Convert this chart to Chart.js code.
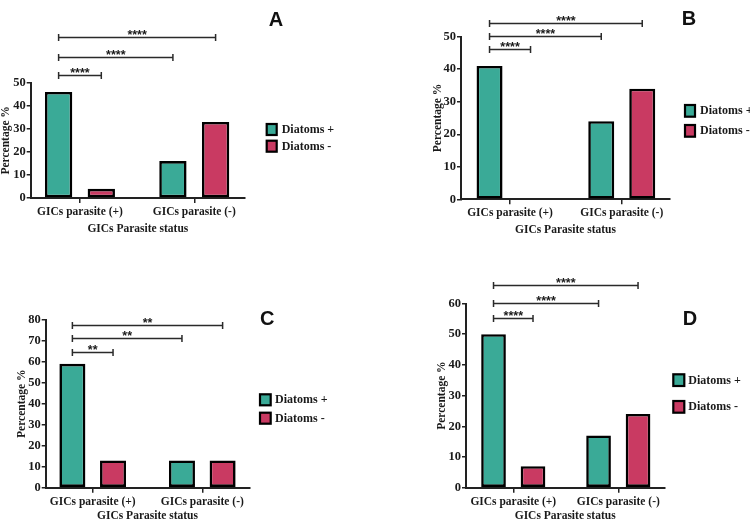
<!DOCTYPE html>
<html><head><meta charset="utf-8">
<script src="https://cdn.jsdelivr.net/npm/chart.js@4.4.1/dist/chart.umd.min.js"></script>
<style>
html,body{margin:0;padding:0;background:#fff;width:750px;height:522px;overflow:hidden}
canvas{position:absolute;left:0;top:0}
</style></head>
<body>
<canvas id="cA" width="750" height="522"></canvas>
<canvas id="cB" width="750" height="522"></canvas>
<canvas id="cC" width="750" height="522"></canvas>
<canvas id="cD" width="750" height="522"></canvas>
<script>
// ---- data ----
const categories = ['GICs parasite (+)', 'GICs parasite (-)'];
const seriesLabels = ['Diatoms +', 'Diatoms -'];
const xTitle = 'GICs Parasite status';
const yTitle = 'Percentage %';

const diatomsPosA = [46, 16];
const diatomsNegA = [4, 33];
const diatomsPosB = [41, 24];
const diatomsNegB = [0, 34];
const diatomsPosC = [59, 13];
const diatomsNegC = [13, 13];
const diatomsPosD = [50, 17];
const diatomsNegD = [7, 24];

const yMaxA = 50, yMaxB = 50, yMaxC = 80, yMaxD = 60;
const yStep = 10;
const sigA = '****', sigB = '****', sigC = '**', sigD = '****';

// ---- styles / layout ----
const GREEN = '#3aaa97';
const RED = '#c93a62';
const INK = '#1a1a1a';
const SERIF = '"Liberation Serif", "Times New Roman", serif';
const SANS = '"Liberation Sans", Arial, sans-serif';

const panels = [
  {id:'cA', letter:'A', pos:diatomsPosA, neg:diatomsNegA, yMax:yMaxA, sig:sigA,
   area:[30.7,82.7,245,198], yW:30.5, xH:38.2, xMin:0.569, xMax:2.444, cat:0.747, bar:0.64,
   brackets:[53.2,61.3,69.7], legend:[266.7,124,16.7,10,11], letterXY:[276,19.7]},
  {id:'cB', letter:'B', pos:diatomsPosB, neg:diatomsNegB, yMax:yMaxB, sig:sigB,
   area:[461,36.7,670,199.3], yW:28.5, xH:37.6, xMin:0.561, xMax:2.432, cat:0.734, bar:0.634,
   brackets:[46.2,50.2,54.2], legend:[685,105,20,10,11.7], letterXY:[689,18.8]},
  {id:'cC', letter:'C', pos:diatomsPosC, neg:diatomsNegC, yMax:yMaxC, sig:sigC,
   area:[45.7,319.7,249.3,487.7], yW:29.7, xH:35.2, xMin:0.571, xMax:2.429, cat:0.742, bar:0.64,
   brackets:[64.8,71.3,77.6], legend:[260,394.3,18.4,10.7,11], letterXY:[267.3,318.8]},
  {id:'cD', letter:'D', pos:diatomsPosD, neg:diatomsNegD, yMax:yMaxD, sig:sigD,
   area:[466,303.5,664.3,487.7], yW:30, xH:35.2, xMin:0.55, xMax:2.438, cat:0.752, bar:0.625,
   brackets:[55.4,60.3,65.9], legend:[673.3,374.3,26.7,11,11.7], letterXY:[690,318.2]}
];

function makeAnnot(p) {
  return {
    id: 'annot' + p.letter,
    afterDraw(chart) {
      const ctx = chart.ctx;
      const ys = chart.scales.y;
      const m0 = chart.getDatasetMeta(0).data;
      const m1 = chart.getDatasetMeta(1).data;
      const x0 = m0[0].x;
      const targets = [m1[0].x, m0[1].x, m1[1].x];
      ctx.save();
      // significance brackets
      p.brackets.forEach((v, i) => {
        const y = Math.round(ys.getPixelForValue(v)) + 0.5;
        const x1 = targets[i];
        ctx.strokeStyle = '#2a2a2a';
        ctx.lineWidth = 1.5;
        ctx.beginPath();
        ctx.moveTo(x0, y); ctx.lineTo(x1, y);
        ctx.moveTo(x0, y - 3.5); ctx.lineTo(x0, y + 3.5);
        ctx.moveTo(x1, y - 3.5); ctx.lineTo(x1, y + 3.5);
        ctx.stroke();
        ctx.fillStyle = INK;
        ctx.font = 'bold 12.5px ' + SANS;
        ctx.textAlign = 'center';
        ctx.textBaseline = 'alphabetic';
        ctx.fillText(p.sig, (x0 + x1) / 2, y + 1.5);
      });
      // legend
      const [lx, ly, gap, bw, bh] = p.legend;
      chart.data.datasets.forEach((ds, i) => {
        const top = ly + i * gap;
        ctx.fillStyle = ds.backgroundColor;
        ctx.fillRect(lx, top, bw, bh);
        ctx.strokeStyle = '#000';
        ctx.lineWidth = 2.2;
        ctx.strokeRect(lx, top, bw, bh);
        ctx.fillStyle = INK;
        ctx.font = 'bold 12px ' + SERIF;
        ctx.textAlign = 'left';
        ctx.textBaseline = 'middle';
        ctx.fillText(ds.label, lx + 15, top + bh / 2 + 0.5);
      });
      // panel letter
      ctx.fillStyle = '#111';
      ctx.font = 'bold 20px ' + SANS;
      ctx.textAlign = 'center';
      ctx.textBaseline = 'middle';
      ctx.fillText(p.letter, p.letterXY[0], p.letterXY[1] + 1);
      ctx.restore();
    }
  };
}

panels.forEach(p => {
  const [L, T, R, B] = p.area;
  const toPts = arr => categories.map((c, i) => ({x: i + 1, y: arr[i]}));
  new Chart(document.getElementById(p.id), {
    type: 'bar',
    data: {
      datasets: [
        {label: seriesLabels[0], data: toPts(p.pos), backgroundColor: GREEN,
         borderColor: '#000', borderWidth: 2.6, borderSkipped: false},
        {label: seriesLabels[1], data: toPts(p.neg), backgroundColor: RED,
         borderColor: '#000', borderWidth: 2.6, borderSkipped: false}
      ]
    },
    options: {
      responsive: false,
      animation: false,
      events: [],
      categoryPercentage: p.cat,
      barPercentage: p.bar,
      layout: {padding: {left: L - p.yW, top: T, right: 750 - R, bottom: 522 - B - p.xH}},
      plugins: {legend: {display: false}, tooltip: {enabled: false}},
      scales: {
        x: {
          type: 'linear', min: p.xMin, max: p.xMax, offset: false,
          afterBuildTicks: s => { s.ticks = categories.map((c, i) => ({value: i + 1})); },
          afterFit: s => { s.height = p.xH; },
          ticks: {callback: v => categories[Math.round(v) - 1], color: INK, padding: 2,
                  maxRotation: 0, autoSkip: false, font: {family: SERIF, size: 11.5, weight: 'bold'}},
          grid: {offset: false, drawOnChartArea: false, drawTicks: true, tickLength: 5, color: '#222', lineWidth: 1.5},
          border: {display: true, color: '#222', width: 2},
          title: {display: true, text: xTitle, color: INK, padding: 0,
                  font: {family: SERIF, size: 11.5, weight: 'bold', lineHeight: 1.2}}
        },
        y: {
          min: 0, max: p.yMax,
          afterFit: s => { s.width = p.yW; },
          ticks: {stepSize: yStep, color: INK, padding: 1,
                  font: {family: SERIF, size: 12.5, weight: 'bold'}},
          grid: {drawOnChartArea: false, drawTicks: true, tickLength: 4, color: '#222', lineWidth: 1.5},
          border: {display: true, color: '#222', width: 2},
          title: {display: true, text: yTitle, color: INK, padding: 0,
                  font: {family: SERIF, size: 11.5, weight: 'bold', lineHeight: 1}}
        }
      }
    },
    plugins: [makeAnnot(p)]
  });
});
</script>
</body></html>
